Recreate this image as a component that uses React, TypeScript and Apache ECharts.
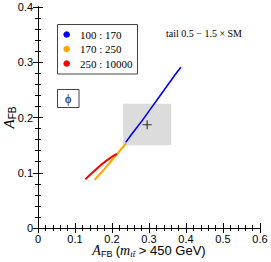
import React, { useEffect, useRef } from "react";
import * as echarts from "echarts";

const seriesNames = ["100 : 170", "170 : 250", "250 : 10000"];
const seriesColors = ["#0000ff", "#ffa500", "#ff0000"];

const blueData = [
  [0.237, 0.155], [0.25, 0.167], [0.265, 0.18], [0.28, 0.193], [0.295, 0.207],
  [0.31, 0.221], [0.325, 0.235], [0.34, 0.249], [0.355, 0.263], [0.37, 0.277], [0.386, 0.291],
];
const orangeData = [
  [0.153, 0.087], [0.165, 0.096], [0.18, 0.107], [0.195, 0.119], [0.21, 0.131], [0.225, 0.143], [0.238, 0.153],
];
const redData = [
  [0.128, 0.088], [0.14, 0.096], [0.155, 0.105], [0.17, 0.114], [0.185, 0.122], [0.2, 0.129], [0.213, 0.134],
];
const boxX = [0.23, 0.36];
const boxY = [0.15, 0.225];
const crossPoint = [[0.295, 0.187]];

const xTicks = { min: 0, max: 0.6, interval: 0.1 };
const yTicks = { min: 0, max: 0.4, interval: 0.1 };

const SANS = "Liberation Sans";
const SERIF = "Liberation Serif";

export default function App() {
  const ref = useRef<HTMLDivElement>(null);
  useEffect(() => {
    if (!ref.current) return;
    const chart = echarts.init(ref.current, null, { renderer: "svg" });
    const axisCommon = {
      axisLine: { show: true, lineStyle: { color: "#000", width: 1 } },
      axisTick: { show: true, inside: true, length: 5, lineStyle: { color: "#000" } },
      minorTick: { show: true, splitNumber: 5, length: 3, lineStyle: { color: "#000" } },
      splitLine: { show: false },
      minorSplitLine: { show: false },
    };
    const fmt = (v: number) => (v === 0 ? "0" : String(Math.round(v * 10) / 10));

    const legendGraphics: any[] = [
      {
        type: "rect",
        shape: { x: 57.5, y: 24.5, width: 80, height: 49.5 },
        style: { fill: "#fff", stroke: "#444", lineWidth: 1 },
        z: 10,
      },
    ];
    seriesNames.forEach((name, i) => {
      const cy = 34.5 + i * 14.5;
      legendGraphics.push({
        type: "circle",
        shape: { cx: 66.7, cy, r: 3.3 },
        style: { fill: seriesColors[i] },
        z: 11,
      });
      legendGraphics.push({
        type: "text",
        x: 80,
        y: cy,
        style: { text: name, fontFamily: SERIF, fontSize: 11, fill: "#000", verticalAlign: "middle" },
        z: 11,
      });
    });

    const option: any = {
      animation: false,
      grid: { left: 38, right: 11, top: 7, bottom: 34, containLabel: false, outerBoundsMode: "none" },
      xAxis: [
        {
          type: "value",
          ...xTicks,
          ...axisCommon,
          axisLabel: { fontFamily: SANS, fontSize: 11, color: "#000", margin: 5, formatter: fmt },
          name: "{ai|A}{sub|FB} {p|(}{mi|m}{msub|tt̄}{p| > 450 GeV)}",
          nameLocation: "middle",
          nameGap: 15,
          nameMoveOverlap: false,
          nameTextStyle: {
            rich: {
              ai: { fontFamily: SERIF, fontStyle: "italic", fontSize: 14, color: "#000" },
              sub: { fontFamily: SANS, fontSize: 9, color: "#000", verticalAlign: "bottom", padding: [6, 0, 0, 0] },
              p: { fontFamily: SANS, fontSize: 13, color: "#000" },
              mi: { fontFamily: SERIF, fontStyle: "italic", fontSize: 14, color: "#000" },
              msub: { fontFamily: SERIF, fontStyle: "italic", fontSize: 9, color: "#000", padding: [6, 0, 0, 0] },
            },
          },
        },
        {
          type: "value",
          position: "top",
          ...xTicks,
          ...axisCommon,
          axisLabel: { show: false },
        },
      ],
      yAxis: [
        {
          type: "value",
          ...yTicks,
          ...axisCommon,
          axisLabel: { fontFamily: SANS, fontSize: 11, color: "#000", margin: 5, formatter: fmt },
          name: "{ai|A}{sub|FB}",
          nameLocation: "middle",
          nameGap: 21,
          nameRotate: 90,
          nameMoveOverlap: false,
          nameTextStyle: {
            rich: {
              ai: { fontFamily: SERIF, fontStyle: "italic", fontSize: 15, color: "#000" },
              sub: { fontFamily: SANS, fontSize: 10, color: "#000", padding: [7, 0, 0, 0] },
            },
          },
        },
        {
          type: "value",
          position: "right",
          ...yTicks,
          ...axisCommon,
          axisLabel: { show: false },
        },
      ],
      series: [
        {
          type: "line",
          data: [],
          z: 1,
          silent: true,
          markArea: {
            silent: true,
            itemStyle: { color: "#dcdcdc" },
            data: [[{ xAxis: boxX[0], yAxis: boxY[0] }, { xAxis: boxX[1], yAxis: boxY[1] }]],
          },
        },
        {
          name: seriesNames[0],
          type: "line",
          data: blueData,
          showSymbol: false,
          color: seriesColors[0],
          lineStyle: { width: 1.6, color: seriesColors[0] },
          z: 3,
        },
        {
          name: seriesNames[1],
          type: "line",
          data: orangeData,
          showSymbol: false,
          color: seriesColors[1],
          lineStyle: { width: 2, color: seriesColors[1] },
          z: 3,
        },
        {
          name: seriesNames[2],
          type: "line",
          data: redData,
          showSymbol: false,
          color: seriesColors[2],
          lineStyle: { width: 2, color: seriesColors[2] },
          z: 3,
        },
        {
          type: "scatter",
          data: crossPoint,
          symbol: "path://M4.4,0H5.6V4.4H10V5.6H5.6V10H4.4V5.6H0V4.4H4.4Z",
          symbolSize: 9,
          itemStyle: { color: "#000" },
          z: 4,
        },
      ],
      graphic: [
        ...legendGraphics,
        {
          type: "text",
          left: 166,
          top: 28,
          style: { text: "tail 0.5 − 1.5 × SM", fontFamily: SERIF, fontSize: 10, fill: "#000" },
        },
        {
          type: "rect",
          shape: { x: 57.5, y: 89.5, width: 21.5, height: 18 },
          style: { fill: "#fff", stroke: "#444", lineWidth: 1 },
        },
        {
          type: "text",
          x: 68.25,
          y: 98.5,
          style: { text: "ϕ", fontFamily: SERIF, fontSize: 12, fill: "#000", align: "center", verticalAlign: "middle" },
        },
      ],
    };
    chart.setOption(option);
    return () => chart.dispose();
  }, []);
  return <div ref={ref} style={{ width: 271, height: 262, position: "absolute", left: 0, top: 0 }} />;
}
